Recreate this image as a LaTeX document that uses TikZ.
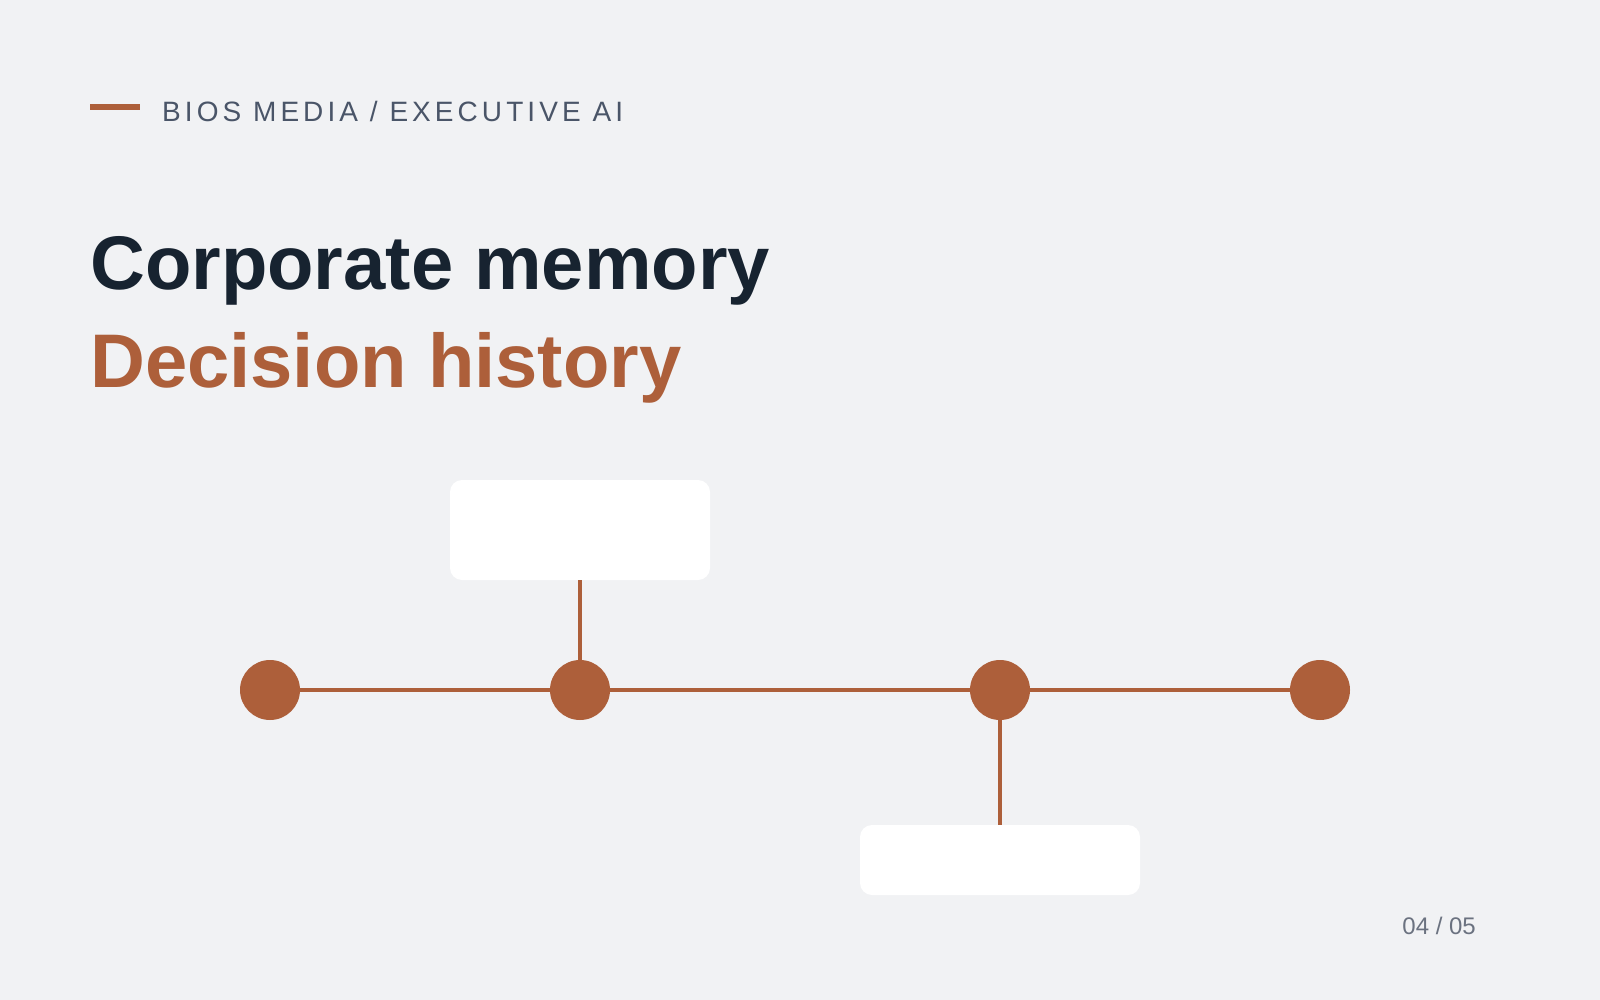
\documentclass[tikz,border=0pt]{standalone}
\usepackage{fontspec}
\setmainfont{Liberation Sans}
\newfontfamily\trackedfont[LetterSpace=14.5]{Liberation Sans}
\definecolor{pagebg}{HTML}{F1F2F4}
\definecolor{copper}{HTML}{AD5F3A}
\definecolor{ink}{HTML}{172330}
\definecolor{slate}{HTML}{4A5568}
\definecolor{pagegray}{HTML}{6B7280}
\tikzset{
  dot/.style={circle, fill=copper, minimum size=60pt, inner sep=0pt},
  card/.style={rectangle, rounded corners=12pt, fill=white, inner sep=0pt},
  rail/.style={draw=copper, line width=4pt},
}
\begin{document}
\begin{tikzpicture}[x=1pt, y=-1pt]
  \fill[pagebg] (0,0) rectangle (1600,1000);
  \useasboundingbox (0,0) rectangle (1600,1000);
  % header
  \fill[copper] (90,104) rectangle (140,110);
  \node[anchor=base west, inner sep=0pt, text=slate] (brand) at (162,122)
    {\trackedfont\fontsize{28}{34}\selectfont BIOS MEDIA / EXECUTIVE AI};
  \node[anchor=base west, inner sep=0pt, text=ink] (title) at (90,290)
    {\fontsize{76}{90}\selectfont\bfseries Corporate memory};
  \node[anchor=base west, inner sep=0pt, text=copper] (subtitle) at (90,387)
    {\fontsize{76}{90}\selectfont\bfseries Decision history};
  % timeline
  \node[dot] (d1) at (270,690) {};
  \node[dot] (d2) at (580,690) {};
  \node[dot] (d3) at (1000,690) {};
  \node[dot] (d4) at (1320,690) {};
  \node[card, minimum width=260pt, minimum height=100pt] (upper) at (580,530) {};
  \node[card, minimum width=280pt, minimum height=70pt] (lower) at (1000,860) {};
  \draw[rail] (d1) -- (d2);
  \draw[rail] (d2) -- (d3);
  \draw[rail] (d3) -- (d4);
  \draw[rail] (upper) -- (d2);
  \draw[rail] (d3) -- (lower);
  \node[anchor=base east, inner sep=0pt, text=pagegray] (page) at (1476,934)
    {\fontsize{24}{28}\selectfont 04 / 05};
\end{tikzpicture}
\end{document}
